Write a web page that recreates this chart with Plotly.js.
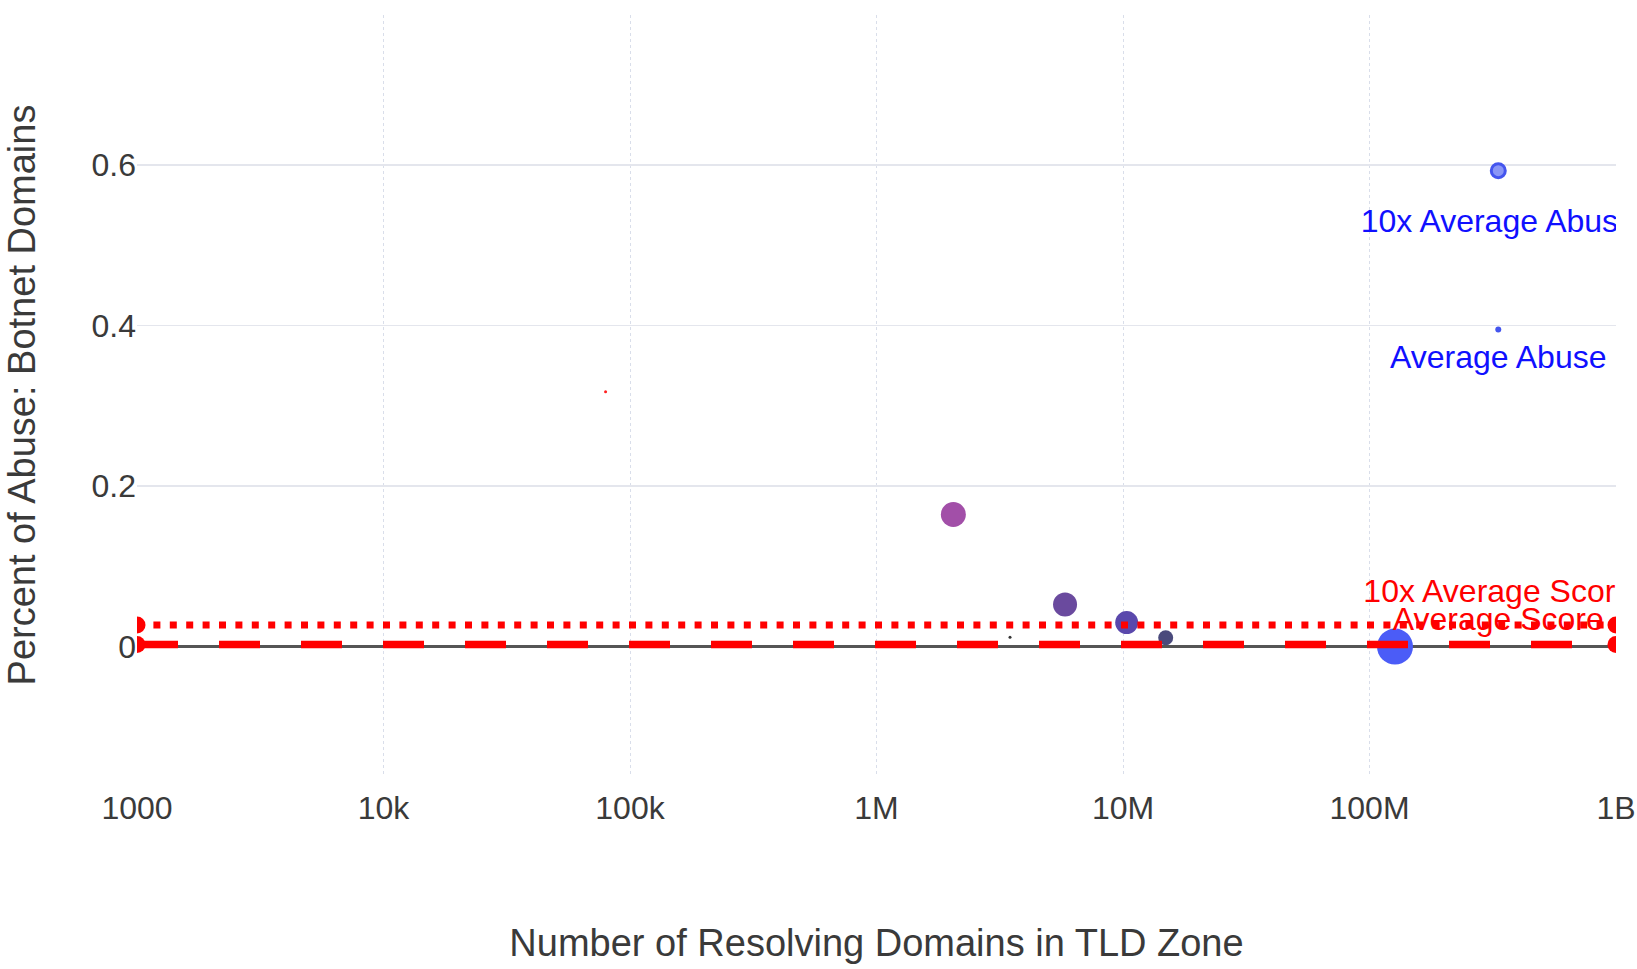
<!DOCTYPE html>
<html>
<head>
<meta charset="utf-8">
<script src="https://cdn.plot.ly/plotly-3.0.1.min.js"></script>
<style>
  html, body { margin: 0; padding: 0; background: #ffffff; }
  #chart { width: 1637px; height: 969px; }
</style>
</head>
<body>
<div id="chart"></div>
<script>
// ---- Data ----
// TLD points: number of resolving domains vs. percent of abuse (botnet domains)
const tldDomains    = [2050000, 5820000, 10350000, 14900000, 126900000, 3480000, 79600];
const tldBotnetPct  = [0.1646, 0.0525, 0.030, 0.011, 0.0, 0.0116, 0.3176];

// Reference lines (score)
const avgScore      = 0.0027;
const avgScore10x   = 0.027;
const lineXEnds     = [1000, 1000000000];

// Abuse reference markers
const abuseX        = [333000000, 333000000];
const abuseY        = [0.593, 0.395];

// Labels
const labelTexts    = ['10x Average Abuse', 'Average Abuse', '10x Average Score', 'Average Score'];
const labelX        = [333000000, 333000000, 333000000, 333000000];
const labelY        = [0.526, 0.357, 0.0655, 0.0305];

// Axis ticks
const xTickVals     = [1000, 10000, 100000, 1000000, 10000000, 100000000, 1000000000];
const xTickText     = ['1000', '10k', '100k', '1M', '10M', '100M', '1B'];
const yTickVals     = [0, 0.2, 0.4, 0.6];
const yTickText     = ['0', '0.2', '0.4', '0.6'];

// ---- Styles ----
const pointColors   = ['#a24fa8', '#6a4a9e', '#5a48ac', '#4a4a7c', '#4b5cf7', '#333333', '#ff2020'];
const pointSizes    = [25, 24, 23, 15, 36, 3, 3];
const labelColors   = ['#1010ff', '#1010ff', '#ff0000', '#ff0000'];
const FONT = '"Liberation Sans", Arial, Helvetica, sans-serif';

const traces = [
  {
    type: 'scatter', mode: 'markers',
    x: tldDomains, y: tldBotnetPct,
    marker: { color: pointColors, size: pointSizes, opacity: 1, line: { width: 0 } },
    hoverinfo: 'x+y'
  },
  {
    type: 'scatter', mode: 'markers',
    x: abuseX, y: abuseY,
    marker: { color: ['#8a96f6', '#4455ee'], size: [14, 6], opacity: 1, line: { color: '#4455ee', width: [3, 0] } }
  },
  {
    type: 'scatter', mode: 'lines+markers',
    x: lineXEnds, y: [avgScore10x, avgScore10x],
    line: { color: '#ff0000', width: 7, dash: '7px,9.4px' },
    marker: { color: '#ff0000', size: 17, opacity: 1 }
  },
  {
    type: 'scatter', mode: 'lines+markers',
    x: lineXEnds, y: [avgScore, avgScore],
    line: { color: '#ff0000', width: 7.5, dash: '41px,41px' },
    marker: { color: '#ff0000', size: 17, opacity: 1 }
  },
  {
    type: 'scatter', mode: 'text',
    x: labelX, y: labelY, text: labelTexts,
    textposition: 'middle center',
    textfont: { family: FONT, size: 32, color: labelColors },
    hoverinfo: 'skip'
  }
];

const layout = {
  width: 1637, height: 969,
  paper_bgcolor: '#ffffff', plot_bgcolor: '#ffffff',
  showlegend: false,
  margin: { l: 137, r: 21, t: 15, b: 194, pad: 0 },
  font: { family: FONT, color: '#3a3a3a' },
  xaxis: {
    type: 'log', range: [3, 9],
    tickvals: xTickVals, ticktext: xTickText,
    tickfont: { family: FONT, size: 32, color: '#3a3a3a' },
    ticks: '', ticklabelstandoff: 11,
    showgrid: true, gridcolor: '#d9deea', gridwidth: 1, griddash: 'dot',
    zeroline: false, showline: false,
    title: { text: 'Number of Resolving Domains in TLD Zone', font: { family: FONT, size: 38, color: '#3a3a3a' }, standoff: 104 }
  },
  yaxis: {
    range: [-0.160, 0.787],
    tickvals: yTickVals, ticktext: yTickText,
    tickfont: { family: FONT, size: 32, color: '#3a3a3a' },
    ticks: '',
    showgrid: true, gridcolor: '#e4e6ed', gridwidth: 1.5,
    zeroline: true, zerolinecolor: '#555555', zerolinewidth: 3,
    showline: false,
    title: { text: 'Percent of Abuse: Botnet Domains', font: { family: FONT, size: 38, color: '#3a3a3a' }, standoff: 44 }
  }
};

Plotly.newPlot('chart', traces, layout, { displayModeBar: false, staticPlot: true });
</script>
</body>
</html>
